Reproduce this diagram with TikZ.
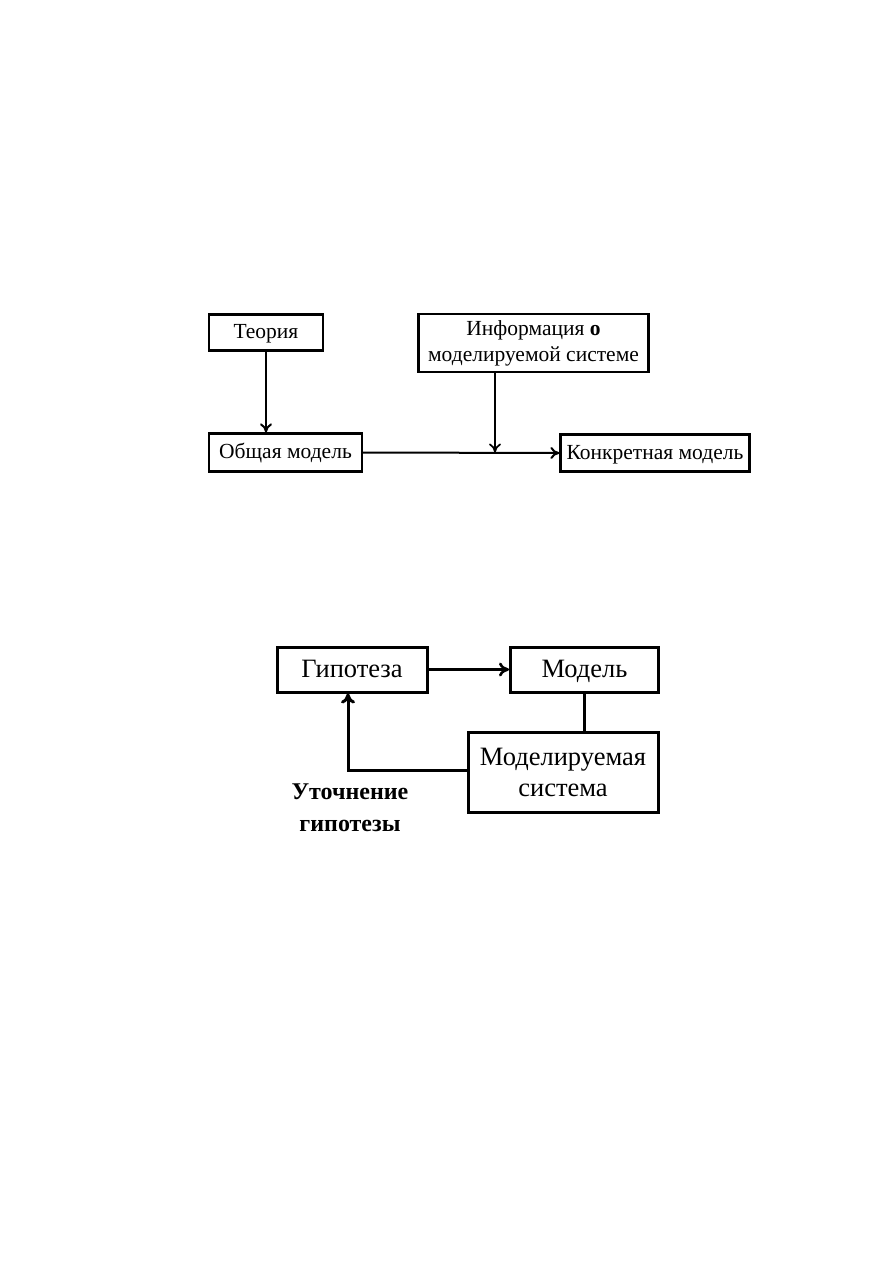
\documentclass[tikz,border=0pt]{standalone}
\usepackage{fontspec}
\setmainfont{Liberation Serif}
\usetikzlibrary{arrows.meta,calc}
\begin{document}
\begin{tikzpicture}[x=1pt,y=-1pt,
  topbox/.style={draw,line width=2.2pt,inner sep=0pt,font=\fontsize{21.5}{26}\selectfont},
  topline/.style={text height=16pt,text depth=4pt},
  botbox/.style={draw,line width=3pt,inner sep=0pt,font=\fontsize{26.5}{31}\selectfont},
  botline1/.style={text height=19pt,text depth=4pt},
  toparrow/.style={line width=2pt,-{To[length=9pt,width=12pt]}},
  botarrow/.style={line width=2.6pt,-{To[length=10pt,width=14pt]}},
  botline/.style={line width=2.2pt},
]
\useasboundingbox (0,0) rectangle (893,1263);
% top diagram
\node[topbox,topline,minimum width=114pt,minimum height=36pt] (teoria) at (266,332.5) {Теория};
\node[topbox,align=center,minimum width=230pt,minimum height=58pt] (info) at (533.5,343) {Информация \textbf{о}\\моделируемой системе};
\node[topbox,topline,minimum width=153pt,minimum height=38pt] (obsh) at (285.5,452.5) {Общая модель};
\node[topbox,topline,minimum width=189pt,minimum height=37pt] (konk) at (655,453) {Конкретная модель};
\coordinate (j) at (495,452.5);
\draw[toparrow] (teoria.south) -- (teoria.south |- obsh.north);
\draw[toparrow] (obsh.east) -- (konk.west);
\draw[toparrow,line width=1.7pt] (info.south -| j) -- (j);
% bottom diagram
\node[botbox,botline1,minimum width=150pt,minimum height=45pt] (gip) at (352,669.5) {Гипотеза};
\node[botbox,botline1,minimum width=148pt,minimum height=45pt] (mod) at (584.5,669.5) {Модель};
\node[botbox,align=center,minimum width=190pt,minimum height=80pt] (sys) at (563,772) {Моделируемая\\система};
\coordinate (fb) at (348,770);
\draw[botarrow] (gip.east) -- (mod.west);
\draw[botline] (mod.south) -- (mod.south |- sys.north);
\draw[botarrow,line width=3pt] (sys.west |- fb) -- (fb) -- (gip.south -| fb);
\node[font=\bfseries\fontsize{24}{32}\selectfont,align=center] (lab) at (350,808) {Уточнение\\гипотезы};
\end{tikzpicture}
\end{document}
